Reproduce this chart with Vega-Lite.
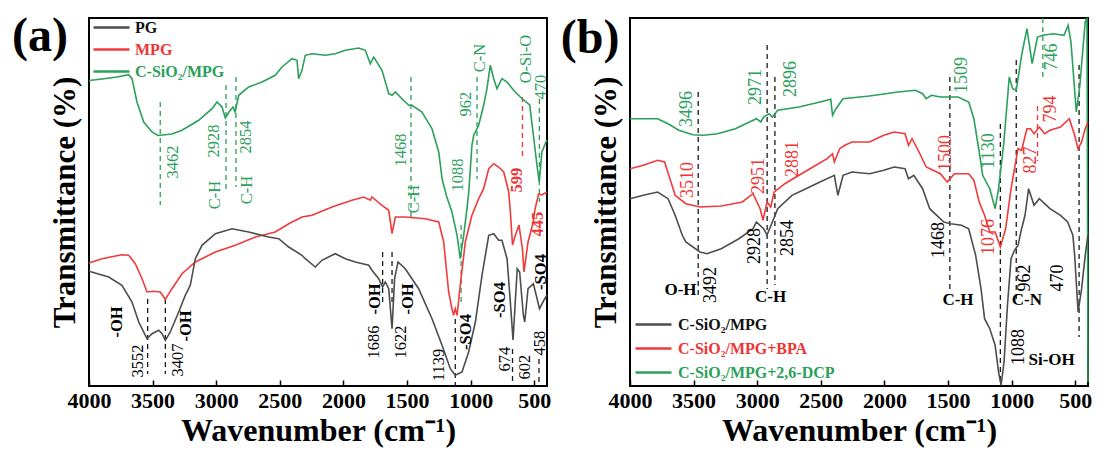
{
  "$schema": "https://vega.github.io/schema/vega-lite/v6.json",
  "background": "white",
  "padding": {"left": 11, "top": 11, "right": 5, "bottom": 5},
  "bounds": "flush",
  "spacing": 83,
  "resolve": {"scale": {"color": "independent", "stroke": "independent", "fill": "independent", "x": "independent", "y": "independent"}, "legend": {"color": "independent"}},
  "config": {
    "view": {"stroke": "black", "strokeWidth": 2},
    "font": "Liberation Serif",
    "axis": {"labelFont": "Liberation Serif", "titleFont": "Liberation Serif", "grid": false}
  },
  "datasets": {
    "a": [
      {"w":4000,"T":305.5,"s":"C-SiO₂/MPG"},{"w":3898,"T":307,"s":"C-SiO₂/MPG"},{"w":3780,"T":309,"s":"C-SiO₂/MPG"},{"w":3688,"T":311.3,"s":"C-SiO₂/MPG"},{"w":3662,"T":307.3,"s":"C-SiO₂/MPG"},{"w":3623,"T":284,"s":"C-SiO₂/MPG"},{"w":3570,"T":264,"s":"C-SiO₂/MPG"},{"w":3505,"T":254,"s":"C-SiO₂/MPG"},{"w":3458,"T":250.5,"s":"C-SiO₂/MPG"},{"w":3348,"T":252,"s":"C-SiO₂/MPG"},{"w":3269,"T":255.7,"s":"C-SiO₂/MPG"},{"w":3138,"T":265.7,"s":"C-SiO₂/MPG"},{"w":3033,"T":277.3,"s":"C-SiO₂/MPG"},{"w":2994,"T":284,"s":"C-SiO₂/MPG"},{"w":2955,"T":279,"s":"C-SiO₂/MPG"},{"w":2928,"T":268,"s":"C-SiO₂/MPG"},{"w":2900,"T":274,"s":"C-SiO₂/MPG"},{"w":2868,"T":279,"s":"C-SiO₂/MPG"},{"w":2852,"T":274,"s":"C-SiO₂/MPG"},{"w":2823,"T":290.7,"s":"C-SiO₂/MPG"},{"w":2745,"T":299,"s":"C-SiO₂/MPG"},{"w":2640,"T":304,"s":"C-SiO₂/MPG"},{"w":2536,"T":310.7,"s":"C-SiO₂/MPG"},{"w":2483,"T":319,"s":"C-SiO₂/MPG"},{"w":2404,"T":327.3,"s":"C-SiO₂/MPG"},{"w":2365,"T":325.7,"s":"C-SiO₂/MPG"},{"w":2352,"T":307.3,"s":"C-SiO₂/MPG"},{"w":2326,"T":315.7,"s":"C-SiO₂/MPG"},{"w":2300,"T":330.7,"s":"C-SiO₂/MPG"},{"w":2247,"T":332.3,"s":"C-SiO₂/MPG"},{"w":2143,"T":330.7,"s":"C-SiO₂/MPG"},{"w":2064,"T":332.3,"s":"C-SiO₂/MPG"},{"w":1985,"T":335.7,"s":"C-SiO₂/MPG"},{"w":1880,"T":338,"s":"C-SiO₂/MPG"},{"w":1828,"T":335.7,"s":"C-SiO₂/MPG"},{"w":1789,"T":322.3,"s":"C-SiO₂/MPG"},{"w":1762,"T":329,"s":"C-SiO₂/MPG"},{"w":1697,"T":315.7,"s":"C-SiO₂/MPG"},{"w":1644,"T":292.3,"s":"C-SiO₂/MPG"},{"w":1618,"T":290.7,"s":"C-SiO₂/MPG"},{"w":1592,"T":294,"s":"C-SiO₂/MPG"},{"w":1540,"T":287.3,"s":"C-SiO₂/MPG"},{"w":1487,"T":280.7,"s":"C-SiO₂/MPG"},{"w":1461,"T":280.7,"s":"C-SiO₂/MPG"},{"w":1383,"T":274,"s":"C-SiO₂/MPG"},{"w":1304,"T":257.3,"s":"C-SiO₂/MPG"},{"w":1251,"T":234,"s":"C-SiO₂/MPG"},{"w":1225,"T":207.3,"s":"C-SiO₂/MPG"},{"w":1190,"T":190,"s":"C-SiO₂/MPG"},{"w":1147,"T":174,"s":"C-SiO₂/MPG"},{"w":1107,"T":150.7,"s":"C-SiO₂/MPG"},{"w":1082,"T":127.3,"s":"C-SiO₂/MPG"},{"w":1055,"T":150.7,"s":"C-SiO₂/MPG"},{"w":1029,"T":177.3,"s":"C-SiO₂/MPG"},{"w":1015,"T":194,"s":"C-SiO₂/MPG"},{"w":990,"T":240.7,"s":"C-SiO₂/MPG"},{"w":976,"T":250.7,"s":"C-SiO₂/MPG"},{"w":937,"T":260.7,"s":"C-SiO₂/MPG"},{"w":898,"T":280.7,"s":"C-SiO₂/MPG"},{"w":872,"T":297.3,"s":"C-SiO₂/MPG"},{"w":846,"T":320.7,"s":"C-SiO₂/MPG"},{"w":819,"T":307.3,"s":"C-SiO₂/MPG"},{"w":793,"T":297.3,"s":"C-SiO₂/MPG"},{"w":754,"T":307.3,"s":"C-SiO₂/MPG"},{"w":714,"T":304,"s":"C-SiO₂/MPG"},{"w":662,"T":295.7,"s":"C-SiO₂/MPG"},{"w":636,"T":292.3,"s":"C-SiO₂/MPG"},{"w":593,"T":287,"s":"C-SiO₂/MPG"},{"w":536,"T":281,"s":"C-SiO₂/MPG"},{"w":510,"T":254,"s":"C-SiO₂/MPG"},{"w":479,"T":221,"s":"C-SiO₂/MPG"},{"w":461,"T":204,"s":"C-SiO₂/MPG"},{"w":440,"T":234,"s":"C-SiO₂/MPG"},{"w":408,"T":244,"s":"C-SiO₂/MPG"},{"w":400,"T":246,"s":"C-SiO₂/MPG"},
      {"w":4000,"T":123,"s":"MPG"},{"w":3898,"T":127.3,"s":"MPG"},{"w":3741,"T":131.3,"s":"MPG"},{"w":3688,"T":130.7,"s":"MPG"},{"w":3636,"T":122.3,"s":"MPG"},{"w":3583,"T":107.3,"s":"MPG"},{"w":3544,"T":94,"s":"MPG"},{"w":3491,"T":94.7,"s":"MPG"},{"w":3440,"T":94,"s":"MPG"},{"w":3400,"T":86.7,"s":"MPG"},{"w":3348,"T":97.3,"s":"MPG"},{"w":3269,"T":112.3,"s":"MPG"},{"w":3164,"T":124,"s":"MPG"},{"w":3007,"T":134,"s":"MPG"},{"w":2850,"T":140.7,"s":"MPG"},{"w":2693,"T":149,"s":"MPG"},{"w":2536,"T":154,"s":"MPG"},{"w":2430,"T":162.3,"s":"MPG"},{"w":2326,"T":169,"s":"MPG"},{"w":2247,"T":170.7,"s":"MPG"},{"w":2090,"T":179,"s":"MPG"},{"w":1933,"T":185.7,"s":"MPG"},{"w":1841,"T":189,"s":"MPG"},{"w":1789,"T":185.7,"s":"MPG"},{"w":1776,"T":189,"s":"MPG"},{"w":1697,"T":180.7,"s":"MPG"},{"w":1644,"T":175.7,"s":"MPG"},{"w":1618,"T":152.3,"s":"MPG"},{"w":1592,"T":169,"s":"MPG"},{"w":1514,"T":169,"s":"MPG"},{"w":1357,"T":167.3,"s":"MPG"},{"w":1251,"T":164,"s":"MPG"},{"w":1212,"T":144,"s":"MPG"},{"w":1173,"T":94,"s":"MPG"},{"w":1147,"T":77.3,"s":"MPG"},{"w":1134,"T":70.7,"s":"MPG"},{"w":1121,"T":77.3,"s":"MPG"},{"w":1107,"T":70.7,"s":"MPG"},{"w":1082,"T":100.7,"s":"MPG"},{"w":1042,"T":144,"s":"MPG"},{"w":990,"T":170.7,"s":"MPG"},{"w":937,"T":187.3,"s":"MPG"},{"w":898,"T":197.3,"s":"MPG"},{"w":858,"T":217.3,"s":"MPG"},{"w":819,"T":222.3,"s":"MPG"},{"w":780,"T":219,"s":"MPG"},{"w":740,"T":214,"s":"MPG"},{"w":701,"T":194,"s":"MPG"},{"w":688,"T":174,"s":"MPG"},{"w":671,"T":141,"s":"MPG"},{"w":648,"T":151,"s":"MPG"},{"w":620,"T":161,"s":"MPG"},{"w":593,"T":137,"s":"MPG"},{"w":581,"T":114,"s":"MPG"},{"w":549,"T":144,"s":"MPG"},{"w":508,"T":164,"s":"MPG"},{"w":494,"T":177,"s":"MPG"},{"w":466,"T":192,"s":"MPG"},{"w":440,"T":191,"s":"MPG"},{"w":400,"T":194,"s":"MPG"},
      {"w":4000,"T":114.7,"s":"PG"},{"w":3845,"T":109,"s":"PG"},{"w":3741,"T":100.7,"s":"PG"},{"w":3662,"T":84,"s":"PG"},{"w":3609,"T":64,"s":"PG"},{"w":3557,"T":50.7,"s":"PG"},{"w":3544,"T":47.3,"s":"PG"},{"w":3505,"T":52.3,"s":"PG"},{"w":3452,"T":55.7,"s":"PG"},{"w":3426,"T":52.3,"s":"PG"},{"w":3400,"T":45.7,"s":"PG"},{"w":3361,"T":54,"s":"PG"},{"w":3295,"T":74,"s":"PG"},{"w":3243,"T":90.7,"s":"PG"},{"w":3204,"T":100.7,"s":"PG"},{"w":3164,"T":127.3,"s":"PG"},{"w":3112,"T":140.7,"s":"PG"},{"w":3007,"T":152.3,"s":"PG"},{"w":2876,"T":157.3,"s":"PG"},{"w":2745,"T":154,"s":"PG"},{"w":2588,"T":149,"s":"PG"},{"w":2509,"T":147.3,"s":"PG"},{"w":2430,"T":139,"s":"PG"},{"w":2326,"T":130.7,"s":"PG"},{"w":2300,"T":127.3,"s":"PG"},{"w":2221,"T":119,"s":"PG"},{"w":2169,"T":125.7,"s":"PG"},{"w":2090,"T":130.7,"s":"PG"},{"w":2064,"T":132.3,"s":"PG"},{"w":1985,"T":127.3,"s":"PG"},{"w":1907,"T":124,"s":"PG"},{"w":1801,"T":120.7,"s":"PG"},{"w":1776,"T":115.7,"s":"PG"},{"w":1723,"T":107.3,"s":"PG"},{"w":1692,"T":99,"s":"PG"},{"w":1671,"T":104,"s":"PG"},{"w":1644,"T":97.3,"s":"PG"},{"w":1618,"T":57.3,"s":"PG"},{"w":1598,"T":107.3,"s":"PG"},{"w":1571,"T":124,"s":"PG"},{"w":1514,"T":117.3,"s":"PG"},{"w":1409,"T":97.3,"s":"PG"},{"w":1304,"T":67.3,"s":"PG"},{"w":1225,"T":40.7,"s":"PG"},{"w":1160,"T":17.3,"s":"PG"},{"w":1121,"T":10.7,"s":"PG"},{"w":1068,"T":14,"s":"PG"},{"w":1016,"T":34,"s":"PG"},{"w":963,"T":64,"s":"PG"},{"w":911,"T":110.7,"s":"PG"},{"w":858,"T":150.7,"s":"PG"},{"w":819,"T":152.3,"s":"PG"},{"w":780,"T":145.7,"s":"PG"},{"w":754,"T":145.7,"s":"PG"},{"w":714,"T":127.3,"s":"PG"},{"w":688,"T":84,"s":"PG"},{"w":667,"T":46,"s":"PG"},{"w":634,"T":117.3,"s":"PG"},{"w":615,"T":114,"s":"PG"},{"w":586,"T":71,"s":"PG"},{"w":575,"T":64,"s":"PG"},{"w":549,"T":97.3,"s":"PG"},{"w":507,"T":102.3,"s":"PG"},{"w":478,"T":87.3,"s":"PG"},{"w":459,"T":77.3,"s":"PG"},{"w":423,"T":86,"s":"PG"},{"w":400,"T":91,"s":"PG"}
    ],
    "aL": [
      {"w":3440,"t1":284,"t2":181,"c":"g"},{"w":2923,"t1":301,"t2":196,"c":"g"},{"w":2845,"t1":309,"t2":199,"c":"g"},{"w":1469,"t1":309,"t2":168,"c":"g"},{"w":1075,"t1":161,"t2":84,"c":"g"},{"w":950,"t1":309,"t2":207,"c":"g"},{"w":460,"t1":287,"t2":184,"c":"g"},
      {"w":593,"t1":289,"t2":227,"c":"r"},
      {"w":3539,"t1":87,"t2":12,"c":"k"},{"w":3400,"t1":87,"t2":12,"c":"k"},{"w":1692,"t1":134,"t2":84,"c":"k"},{"w":1618,"t1":134,"t2":84,"c":"k"},{"w":1121,"t1":67,"t2":0,"c":"k"},{"w":671,"t1":37,"t2":0,"c":"k"},{"w":463,"t1":27,"t2":0,"c":"k"}
    ],
    "aT": [
      {"w":3340,"T":224,"label":"3462","c":"g","k":"n"},{"w":3014,"T":245,"label":"2928","c":"g","k":"n"},{"w":3010,"T":191,"label":"C-H","c":"g","k":"n"},{"w":2766,"T":249,"label":"2854","c":"g","k":"n"},{"w":2758,"T":196,"label":"C-H","c":"g","k":"n"},{"w":1548,"T":236,"label":"1468","c":"g","k":"n"},{"w":1445,"T":187,"label":"C-H","c":"g","k":"n"},{"w":1100,"T":211,"label":"1088","c":"g","k":"n"},{"w":1037,"T":282,"label":"962","c":"g","k":"n"},{"w":927,"T":328,"label":"C-N","c":"g","k":"n"},{"w":565,"T":327,"label":"O-Si-O","c":"g","k":"n"},{"w":451,"T":299,"label":"470","c":"g","k":"n"},
      {"w":636,"T":206,"label":"599","c":"r","k":"b"},{"w":467,"T":162,"label":"445","c":"r","k":"b"},
      {"w":3780,"T":64,"label":"-OH","c":"k","k":"b"},{"w":3615,"T":25,"label":"3552","c":"k","k":"n"},{"w":3300,"T":26,"label":"3407","c":"k","k":"n"},{"w":3238,"T":60,"label":"-OH","c":"k","k":"b"},{"w":1760,"T":44,"label":"1686","c":"k","k":"n"},{"w":1752,"T":87,"label":"-OH","c":"k","k":"b"},{"w":1548,"T":44,"label":"1622","c":"k","k":"n"},{"w":1493,"T":87,"label":"-OH","c":"k","k":"b"},{"w":1249,"T":21,"label":"1139","c":"k","k":"n"},{"w":1037,"T":54,"label":"-SO4","c":"k","k":"b"},{"w":770,"T":86,"label":"-SO4","c":"k","k":"b"},{"w":734,"T":27,"label":"674","c":"k","k":"n"},{"w":576,"T":19,"label":"602","c":"k","k":"n"},{"w":447,"T":114,"label":"-SO4","c":"k","k":"b"},{"w":455,"T":43,"label":"458","c":"k","k":"n"}
    ],
    "b": [
      {"w":4000,"T":267.3,"s":"C-SiO₂/MPG+2,6-DCP"},{"w":3783,"T":267.3,"s":"C-SiO₂/MPG+2,6-DCP"},{"w":3701,"T":262.3,"s":"C-SiO₂/MPG+2,6-DCP"},{"w":3616,"T":255.7,"s":"C-SiO₂/MPG+2,6-DCP"},{"w":3505,"T":251.3,"s":"C-SiO₂/MPG+2,6-DCP"},{"w":3423,"T":250.7,"s":"C-SiO₂/MPG+2,6-DCP"},{"w":3312,"T":252.3,"s":"C-SiO₂/MPG+2,6-DCP"},{"w":3172,"T":257.3,"s":"C-SiO₂/MPG+2,6-DCP"},{"w":3061,"T":264,"s":"C-SiO₂/MPG+2,6-DCP"},{"w":3006,"T":267.3,"s":"C-SiO₂/MPG+2,6-DCP"},{"w":2972,"T":264,"s":"C-SiO₂/MPG+2,6-DCP"},{"w":2950,"T":269,"s":"C-SiO₂/MPG+2,6-DCP"},{"w":2908,"T":272.3,"s":"C-SiO₂/MPG+2,6-DCP"},{"w":2881,"T":269,"s":"C-SiO₂/MPG+2,6-DCP"},{"w":2839,"T":275.7,"s":"C-SiO₂/MPG+2,6-DCP"},{"w":2672,"T":279,"s":"C-SiO₂/MPG+2,6-DCP"},{"w":2507,"T":284,"s":"C-SiO₂/MPG+2,6-DCP"},{"w":2422,"T":286.7,"s":"C-SiO₂/MPG+2,6-DCP"},{"w":2408,"T":270.7,"s":"C-SiO₂/MPG+2,6-DCP"},{"w":2381,"T":277.3,"s":"C-SiO₂/MPG+2,6-DCP"},{"w":2326,"T":287.3,"s":"C-SiO₂/MPG+2,6-DCP"},{"w":2117,"T":290,"s":"C-SiO₂/MPG+2,6-DCP"},{"w":1894,"T":294,"s":"C-SiO₂/MPG+2,6-DCP"},{"w":1756,"T":295.7,"s":"C-SiO₂/MPG+2,6-DCP"},{"w":1700,"T":292.3,"s":"C-SiO₂/MPG+2,6-DCP"},{"w":1673,"T":287.3,"s":"C-SiO₂/MPG+2,6-DCP"},{"w":1630,"T":290.7,"s":"C-SiO₂/MPG+2,6-DCP"},{"w":1561,"T":289,"s":"C-SiO₂/MPG+2,6-DCP"},{"w":1422,"T":289,"s":"C-SiO₂/MPG+2,6-DCP"},{"w":1338,"T":284,"s":"C-SiO₂/MPG+2,6-DCP"},{"w":1297,"T":267.3,"s":"C-SiO₂/MPG+2,6-DCP"},{"w":1255,"T":234,"s":"C-SiO₂/MPG+2,6-DCP"},{"w":1228,"T":210.7,"s":"C-SiO₂/MPG+2,6-DCP"},{"w":1172,"T":197.3,"s":"C-SiO₂/MPG+2,6-DCP"},{"w":1130,"T":177.3,"s":"C-SiO₂/MPG+2,6-DCP"},{"w":1103,"T":197.3,"s":"C-SiO₂/MPG+2,6-DCP"},{"w":1061,"T":244,"s":"C-SiO₂/MPG+2,6-DCP"},{"w":1019,"T":309,"s":"C-SiO₂/MPG+2,6-DCP"},{"w":992,"T":297.3,"s":"C-SiO₂/MPG+2,6-DCP"},{"w":964,"T":295.7,"s":"C-SiO₂/MPG+2,6-DCP"},{"w":922,"T":330.7,"s":"C-SiO₂/MPG+2,6-DCP"},{"w":880,"T":357.3,"s":"C-SiO₂/MPG+2,6-DCP"},{"w":839,"T":322.3,"s":"C-SiO₂/MPG+2,6-DCP"},{"w":797,"T":349,"s":"C-SiO₂/MPG+2,6-DCP"},{"w":755,"T":350.7,"s":"C-SiO₂/MPG+2,6-DCP"},{"w":672,"T":352.3,"s":"C-SiO₂/MPG+2,6-DCP"},{"w":589,"T":350.7,"s":"C-SiO₂/MPG+2,6-DCP"},{"w":556,"T":360.7,"s":"C-SiO₂/MPG+2,6-DCP"},{"w":534,"T":344,"s":"C-SiO₂/MPG+2,6-DCP"},{"w":492,"T":274,"s":"C-SiO₂/MPG+2,6-DCP"},{"w":464,"T":300.7,"s":"C-SiO₂/MPG+2,6-DCP"},{"w":422,"T":364,"s":"C-SiO₂/MPG+2,6-DCP"},{"w":408,"T":368,"s":"C-SiO₂/MPG+2,6-DCP"},{"w":400,"T":4,"s":"C-SiO₂/MPG+2,6-DCP"},
      {"w":4000,"T":217.3,"s":"C-SiO₂/MPG+BPA"},{"w":3895,"T":220.7,"s":"C-SiO₂/MPG+BPA"},{"w":3783,"T":225.7,"s":"C-SiO₂/MPG+BPA"},{"w":3728,"T":224,"s":"C-SiO₂/MPG+BPA"},{"w":3686,"T":207.3,"s":"C-SiO₂/MPG+BPA"},{"w":3645,"T":190.7,"s":"C-SiO₂/MPG+BPA"},{"w":3561,"T":182.3,"s":"C-SiO₂/MPG+BPA"},{"w":3450,"T":179,"s":"C-SiO₂/MPG+BPA"},{"w":3283,"T":180,"s":"C-SiO₂/MPG+BPA"},{"w":3117,"T":184,"s":"C-SiO₂/MPG+BPA"},{"w":3033,"T":192.3,"s":"C-SiO₂/MPG+BPA"},{"w":2977,"T":177.3,"s":"C-SiO₂/MPG+BPA"},{"w":2955,"T":165.7,"s":"C-SiO₂/MPG+BPA"},{"w":2922,"T":184,"s":"C-SiO₂/MPG+BPA"},{"w":2894,"T":179,"s":"C-SiO₂/MPG+BPA"},{"w":2867,"T":194,"s":"C-SiO₂/MPG+BPA"},{"w":2783,"T":202.3,"s":"C-SiO₂/MPG+BPA"},{"w":2672,"T":210.7,"s":"C-SiO₂/MPG+BPA"},{"w":2562,"T":219,"s":"C-SiO₂/MPG+BPA"},{"w":2450,"T":227.3,"s":"C-SiO₂/MPG+BPA"},{"w":2408,"T":232.3,"s":"C-SiO₂/MPG+BPA"},{"w":2394,"T":224,"s":"C-SiO₂/MPG+BPA"},{"w":2352,"T":237.3,"s":"C-SiO₂/MPG+BPA"},{"w":2311,"T":240.7,"s":"C-SiO₂/MPG+BPA"},{"w":2255,"T":244,"s":"C-SiO₂/MPG+BPA"},{"w":2117,"T":244,"s":"C-SiO₂/MPG+BPA"},{"w":2006,"T":250.7,"s":"C-SiO₂/MPG+BPA"},{"w":1922,"T":254,"s":"C-SiO₂/MPG+BPA"},{"w":1838,"T":252.3,"s":"C-SiO₂/MPG+BPA"},{"w":1811,"T":240.7,"s":"C-SiO₂/MPG+BPA"},{"w":1783,"T":247.3,"s":"C-SiO₂/MPG+BPA"},{"w":1728,"T":234,"s":"C-SiO₂/MPG+BPA"},{"w":1672,"T":219,"s":"C-SiO₂/MPG+BPA"},{"w":1617,"T":215.7,"s":"C-SiO₂/MPG+BPA"},{"w":1561,"T":212.3,"s":"C-SiO₂/MPG+BPA"},{"w":1506,"T":204,"s":"C-SiO₂/MPG+BPA"},{"w":1450,"T":212.3,"s":"C-SiO₂/MPG+BPA"},{"w":1338,"T":212.3,"s":"C-SiO₂/MPG+BPA"},{"w":1297,"T":205.7,"s":"C-SiO₂/MPG+BPA"},{"w":1255,"T":184,"s":"C-SiO₂/MPG+BPA"},{"w":1213,"T":170.7,"s":"C-SiO₂/MPG+BPA"},{"w":1172,"T":154,"s":"C-SiO₂/MPG+BPA"},{"w":1130,"T":154,"s":"C-SiO₂/MPG+BPA"},{"w":1089,"T":139,"s":"C-SiO₂/MPG+BPA"},{"w":1047,"T":157.3,"s":"C-SiO₂/MPG+BPA"},{"w":1005,"T":197.3,"s":"C-SiO₂/MPG+BPA"},{"w":950,"T":237.3,"s":"C-SiO₂/MPG+BPA"},{"w":922,"T":235.7,"s":"C-SiO₂/MPG+BPA"},{"w":880,"T":257.3,"s":"C-SiO₂/MPG+BPA"},{"w":852,"T":257.3,"s":"C-SiO₂/MPG+BPA"},{"w":824,"T":252.3,"s":"C-SiO₂/MPG+BPA"},{"w":783,"T":259,"s":"C-SiO₂/MPG+BPA"},{"w":741,"T":252.3,"s":"C-SiO₂/MPG+BPA"},{"w":699,"T":255.7,"s":"C-SiO₂/MPG+BPA"},{"w":616,"T":259,"s":"C-SiO₂/MPG+BPA"},{"w":547,"T":267.3,"s":"C-SiO₂/MPG+BPA"},{"w":505,"T":250.7,"s":"C-SiO₂/MPG+BPA"},{"w":478,"T":237.3,"s":"C-SiO₂/MPG+BPA"},{"w":450,"T":244,"s":"C-SiO₂/MPG+BPA"},{"w":422,"T":257.3,"s":"C-SiO₂/MPG+BPA"},{"w":400,"T":264,"s":"C-SiO₂/MPG+BPA"},
      {"w":4000,"T":187.3,"s":"C-SiO₂/MPG"},{"w":3895,"T":190.7,"s":"C-SiO₂/MPG"},{"w":3783,"T":194,"s":"C-SiO₂/MPG"},{"w":3701,"T":187.3,"s":"C-SiO₂/MPG"},{"w":3645,"T":170.7,"s":"C-SiO₂/MPG"},{"w":3589,"T":150.7,"s":"C-SiO₂/MPG"},{"w":3561,"T":144,"s":"C-SiO₂/MPG"},{"w":3450,"T":134,"s":"C-SiO₂/MPG"},{"w":3395,"T":132.3,"s":"C-SiO₂/MPG"},{"w":3283,"T":137.3,"s":"C-SiO₂/MPG"},{"w":3144,"T":147.3,"s":"C-SiO₂/MPG"},{"w":3033,"T":157.3,"s":"C-SiO₂/MPG"},{"w":3006,"T":164,"s":"C-SiO₂/MPG"},{"w":2950,"T":157.3,"s":"C-SiO₂/MPG"},{"w":2923,"T":151,"s":"C-SiO₂/MPG"},{"w":2881,"T":164,"s":"C-SiO₂/MPG"},{"w":2839,"T":177.3,"s":"C-SiO₂/MPG"},{"w":2727,"T":190.7,"s":"C-SiO₂/MPG"},{"w":2617,"T":197.3,"s":"C-SiO₂/MPG"},{"w":2507,"T":204,"s":"C-SiO₂/MPG"},{"w":2394,"T":210.7,"s":"C-SiO₂/MPG"},{"w":2366,"T":190.7,"s":"C-SiO₂/MPG"},{"w":2325,"T":210.7,"s":"C-SiO₂/MPG"},{"w":2255,"T":214,"s":"C-SiO₂/MPG"},{"w":2117,"T":212.3,"s":"C-SiO₂/MPG"},{"w":2006,"T":215.7,"s":"C-SiO₂/MPG"},{"w":1922,"T":219,"s":"C-SiO₂/MPG"},{"w":1838,"T":217.3,"s":"C-SiO₂/MPG"},{"w":1811,"T":207.3,"s":"C-SiO₂/MPG"},{"w":1769,"T":210.7,"s":"C-SiO₂/MPG"},{"w":1700,"T":197.3,"s":"C-SiO₂/MPG"},{"w":1644,"T":177.3,"s":"C-SiO₂/MPG"},{"w":1589,"T":170.7,"s":"C-SiO₂/MPG"},{"w":1533,"T":164,"s":"C-SiO₂/MPG"},{"w":1478,"T":162.3,"s":"C-SiO₂/MPG"},{"w":1394,"T":160.7,"s":"C-SiO₂/MPG"},{"w":1338,"T":157.3,"s":"C-SiO₂/MPG"},{"w":1283,"T":130.7,"s":"C-SiO₂/MPG"},{"w":1241,"T":97.3,"s":"C-SiO₂/MPG"},{"w":1213,"T":67.3,"s":"C-SiO₂/MPG"},{"w":1172,"T":57.3,"s":"C-SiO₂/MPG"},{"w":1130,"T":40.7,"s":"C-SiO₂/MPG"},{"w":1103,"T":14,"s":"C-SiO₂/MPG"},{"w":1083,"T":1,"s":"C-SiO₂/MPG"},{"w":1060,"T":24,"s":"C-SiO₂/MPG"},{"w":1033,"T":80.7,"s":"C-SiO₂/MPG"},{"w":1005,"T":127.3,"s":"C-SiO₂/MPG"},{"w":978,"T":135.7,"s":"C-SiO₂/MPG"},{"w":950,"T":140.7,"s":"C-SiO₂/MPG"},{"w":922,"T":157.3,"s":"C-SiO₂/MPG"},{"w":895,"T":170.7,"s":"C-SiO₂/MPG"},{"w":867,"T":197.3,"s":"C-SiO₂/MPG"},{"w":824,"T":180.7,"s":"C-SiO₂/MPG"},{"w":783,"T":187.3,"s":"C-SiO₂/MPG"},{"w":741,"T":182.3,"s":"C-SiO₂/MPG"},{"w":699,"T":177.3,"s":"C-SiO₂/MPG"},{"w":616,"T":170.7,"s":"C-SiO₂/MPG"},{"w":560,"T":164,"s":"C-SiO₂/MPG"},{"w":519,"T":150.7,"s":"C-SiO₂/MPG"},{"w":505,"T":130.7,"s":"C-SiO₂/MPG"},{"w":478,"T":74,"s":"C-SiO₂/MPG"},{"w":450,"T":97.3,"s":"C-SiO₂/MPG"},{"w":422,"T":130.7,"s":"C-SiO₂/MPG"},{"w":400,"T":151,"s":"C-SiO₂/MPG"}
    ],
    "bL": [
      {"w":3464,"t1":294,"t2":87,"c":"k"},{"w":2922,"t1":341,"t2":97,"c":"k"},{"w":2861,"t1":309,"t2":101,"c":"k"},{"w":1486,"t1":309,"t2":94,"c":"k"},{"w":1089,"t1":262,"t2":0,"c":"k"},{"w":964,"t1":326,"t2":87,"c":"k"},{"w":470,"t1":321,"t2":49,"c":"k"},
      {"w":797,"t1":280,"t2":225,"c":"r"},{"w":755,"t1":368,"t2":306,"c":"g"}
    ],
    "bT": [
      {"w":3552,"T":277,"label":"3496","c":"g","k":"n"},{"w":3013,"T":299,"label":"2971","c":"g","k":"n"},{"w":2735,"T":307,"label":"2896","c":"g","k":"n"},{"w":1394,"T":311,"label":"1509","c":"g","k":"n"},{"w":1178,"T":235,"label":"1130","c":"g","k":"n"},{"w":686,"T":329,"label":"746","c":"g","k":"n"},
      {"w":3544,"T":206,"label":"3510","c":"r","k":"n"},{"w":2986,"T":210,"label":"2951","c":"r","k":"n"},{"w":2722,"T":227,"label":"2881","c":"r","k":"n"},{"w":1520,"T":233,"label":"1500","c":"r","k":"n"},{"w":1175,"T":149,"label":"1076","c":"r","k":"n"},{"w":845,"T":226,"label":"827","c":"r","k":"n"},{"w":691,"T":277,"label":"794","c":"r","k":"n"},
      {"w":3367,"T":101,"label":"3492","c":"k","k":"n"},{"w":3020,"T":140,"label":"2928","c":"k","k":"n"},{"w":2756,"T":148,"label":"2854","c":"k","k":"n"},{"w":1568,"T":146,"label":"1468","c":"k","k":"n"},{"w":942,"T":39,"label":"1088","c":"k","k":"n"},{"w":895,"T":108,"label":"962","c":"k","k":"n"},{"w":638,"T":108,"label":"470","c":"k","k":"n"},
      {"w":3603,"T":96,"label":"O-H","c":"k","k":"h"},{"w":2895,"T":89,"label":"C-H","c":"k","k":"h"},{"w":1422,"T":86,"label":"C-H","c":"k","k":"h"},{"w":880,"T":86,"label":"C-N","c":"k","k":"h"},{"w":686,"T":26,"label":"Si-OH","c":"k","k":"h"}
    ],
    "tags": [
      {"p":"a","w":4385,"T":349,"label":"(a)"},
      {"p":"b","w":4314,"T":347,"label":"(b)"}
    ]
  },
  "hconcat": [
    {
      "width": 458, "height": 368,
      "layer": [
        {
          "data": {"name": "aL"},
          "mark": {"type": "rule", "strokeDash": [5, 4], "strokeWidth": 1.3},
          "encoding": {
            "x": {"field": "w", "type": "quantitative", "scale": {"domain": [4000, 400], "nice": false, "zero": false},
              "axis": {"title": "Wavenumber (cm⁻¹)", "values": [4000,3750,3500,3250,3000,2750,2500,2250,2000,1750,1500,1250,1000,750,500], "format": "d", "labelExpr": "datum.value % 500 === 0 ? datum.label : ''", "tickSize": {"condition": {"test": "datum.value % 500 === 0", "value": -6}, "value": -3}, "tickColor": "black", "tickWidth": 1.5, "domain": false, "labelFontSize": 22, "labelFontWeight": "bold", "labelColor": "black", "labelPadding": 10, "labelFlush": false, "labelOverlap": false, "titleFontSize": 32, "titleFontWeight": "bold", "titleColor": "black", "titlePadding": 4}},
            "y": {"field": "t1", "type": "quantitative", "scale": {"domain": [0, 368], "nice": false, "zero": false},
              "axis": {"title": "Transmittance (%)", "labels": false, "ticks": false, "domain": false, "titleFontSize": 31, "titleFontWeight": "bold", "titleColor": "black", "titlePadding": 8}},
            "y2": {"field": "t2"},
            "stroke": {"field": "c", "type": "nominal", "scale": {"domain": ["k", "r", "g"], "range": ["#1a1a1a", "#ee3535", "#2aa05a"]}, "legend": null}
          }
        },
        {
          "data": {"name": "a"},
          "mark": {"type": "line", "strokeWidth": 1.6},
          "encoding": {
            "x": {"field": "w", "type": "quantitative"},
            "y": {"field": "T", "type": "quantitative"},
            "color": {"field": "s", "type": "nominal", "sort": ["PG", "MPG", "C-SiO₂/MPG"],
              "scale": {"domain": ["PG", "MPG", "C-SiO₂/MPG"], "range": ["#4d4d4d", "#f23a3a", "#2aa05a"]},
              "legend": {"title": null, "orient": "none", "legendX": 12, "legendY": -1, "symbolType": "M-2,0H2", "symbolSize": 324, "symbolStrokeWidth": 2.5, "labelFont": "Liberation Serif", "labelFontSize": 16, "labelFontWeight": "bold", "labelOffset": 13, "rowPadding": 3, "padding": 0,
                "encode": {"labels": {"update": {"fill": {"signal": "datum.value === 'MPG' ? '#ee3535' : datum.value === 'PG' ? '#111111' : '#2aa05a'"}}}}}}
          }
        },
        {
          "data": {"name": "aT"},
          "transform": [{"filter": "datum.k === 'n'"}],
          "mark": {"type": "text", "angle": 270, "font": "Liberation Serif", "fontSize": 16.5, "align": "center", "baseline": "middle"},
          "encoding": {
            "x": {"field": "w", "type": "quantitative"},
            "y": {"field": "T", "type": "quantitative"},
            "text": {"field": "label"},
            "fill": {"field": "c", "type": "nominal", "scale": {"domain": ["k", "r", "g"], "range": ["#000000", "#ee3535", "#2aa05a"]}, "legend": null}
          }
        },
        {
          "data": {"name": "aT"},
          "transform": [{"filter": "datum.k === 'b'"}],
          "mark": {"type": "text", "angle": 270, "font": "Liberation Serif", "fontSize": 16.5, "fontWeight": "bold", "align": "center", "baseline": "middle"},
          "encoding": {
            "x": {"field": "w", "type": "quantitative"},
            "y": {"field": "T", "type": "quantitative"},
            "text": {"field": "label"},
            "fill": {"field": "c", "type": "nominal", "legend": null}
          }
        },
        {
          "data": {"name": "tags"},
          "transform": [{"filter": "datum.p === 'a'"}],
          "mark": {"type": "text", "font": "Liberation Serif", "fontSize": 48, "fontWeight": "bold", "align": "center", "baseline": "middle", "color": "black"},
          "encoding": {
            "x": {"field": "w", "type": "quantitative"},
            "y": {"field": "T", "type": "quantitative"},
            "text": {"field": "label"}
          }
        }
      ]
    },
    {
      "width": 458, "height": 368,
      "layer": [
        {
          "data": {"name": "bL"},
          "mark": {"type": "rule", "strokeDash": [5, 4], "strokeWidth": 1.3},
          "encoding": {
            "x": {"field": "w", "type": "quantitative", "scale": {"domain": [4000, 400], "nice": false, "zero": false},
              "axis": {"title": "Wavenumber (cm⁻¹)", "values": [4000,3750,3500,3250,3000,2750,2500,2250,2000,1750,1500,1250,1000,750,500], "format": "d", "labelExpr": "datum.value % 500 === 0 ? datum.label : ''", "tickSize": {"condition": {"test": "datum.value % 500 === 0", "value": -6}, "value": -3}, "tickColor": "black", "tickWidth": 1.5, "domain": false, "labelFontSize": 22, "labelFontWeight": "bold", "labelColor": "black", "labelPadding": 10, "labelFlush": false, "labelOverlap": false, "titleFontSize": 32, "titleFontWeight": "bold", "titleColor": "black", "titlePadding": 4}},
            "y": {"field": "t1", "type": "quantitative", "scale": {"domain": [0, 368], "nice": false, "zero": false},
              "axis": {"title": "Transmittance (%)", "labels": false, "ticks": false, "domain": false, "titleFontSize": 31, "titleFontWeight": "bold", "titleColor": "black", "titlePadding": 8}},
            "y2": {"field": "t2"},
            "stroke": {"field": "c", "type": "nominal", "scale": {"domain": ["k", "r", "g"], "range": ["#1a1a1a", "#ee3535", "#2aa05a"]}, "legend": null}
          }
        },
        {
          "data": {"name": "b"},
          "mark": {"type": "line", "strokeWidth": 1.6},
          "encoding": {
            "x": {"field": "w", "type": "quantitative"},
            "y": {"field": "T", "type": "quantitative"},
            "color": {"field": "s", "type": "nominal", "sort": ["C-SiO₂/MPG", "C-SiO₂/MPG+BPA", "C-SiO₂/MPG+2,6-DCP"],
              "scale": {"domain": ["C-SiO₂/MPG", "C-SiO₂/MPG+BPA", "C-SiO₂/MPG+2,6-DCP"], "range": ["#4d4d4d", "#f23a3a", "#2aa05a"]},
              "legend": {"title": null, "orient": "none", "legendX": 13, "legendY": 296, "symbolType": "M-2,0H2", "symbolSize": 324, "symbolStrokeWidth": 2.5, "labelFont": "Liberation Serif", "labelFontSize": 16, "labelFontWeight": "bold", "labelOffset": 14, "rowPadding": 5, "padding": 0, "labelLimit": 300,
                "encode": {"labels": {"update": {"fill": {"signal": "indexof(datum.value, 'BPA') >= 0 ? '#ee3535' : indexof(datum.value, 'DCP') >= 0 ? '#2aa05a' : '#111111'"}}}}}}
          }
        },
        {
          "data": {"name": "bT"},
          "transform": [{"filter": "datum.k === 'n'"}],
          "mark": {"type": "text", "angle": 270, "font": "Liberation Serif", "fontSize": 18, "align": "center", "baseline": "middle"},
          "encoding": {
            "x": {"field": "w", "type": "quantitative"},
            "y": {"field": "T", "type": "quantitative"},
            "text": {"field": "label"},
            "fill": {"field": "c", "type": "nominal", "scale": {"domain": ["k", "r", "g"], "range": ["#000000", "#ee3535", "#2aa05a"]}, "legend": null}
          }
        },
        {
          "data": {"name": "bT"},
          "transform": [{"filter": "datum.k === 'h'"}],
          "mark": {"type": "text", "font": "Liberation Serif", "fontSize": 17, "fontWeight": "bold", "align": "center", "baseline": "middle"},
          "encoding": {
            "x": {"field": "w", "type": "quantitative"},
            "y": {"field": "T", "type": "quantitative"},
            "text": {"field": "label"},
            "fill": {"field": "c", "type": "nominal", "legend": null}
          }
        },
        {
          "data": {"name": "tags"},
          "transform": [{"filter": "datum.p === 'b'"}],
          "mark": {"type": "text", "font": "Liberation Serif", "fontSize": 48, "fontWeight": "bold", "align": "center", "baseline": "middle", "color": "black"},
          "encoding": {
            "x": {"field": "w", "type": "quantitative"},
            "y": {"field": "T", "type": "quantitative"},
            "text": {"field": "label"}
          }
        }
      ]
    }
  ]
}
